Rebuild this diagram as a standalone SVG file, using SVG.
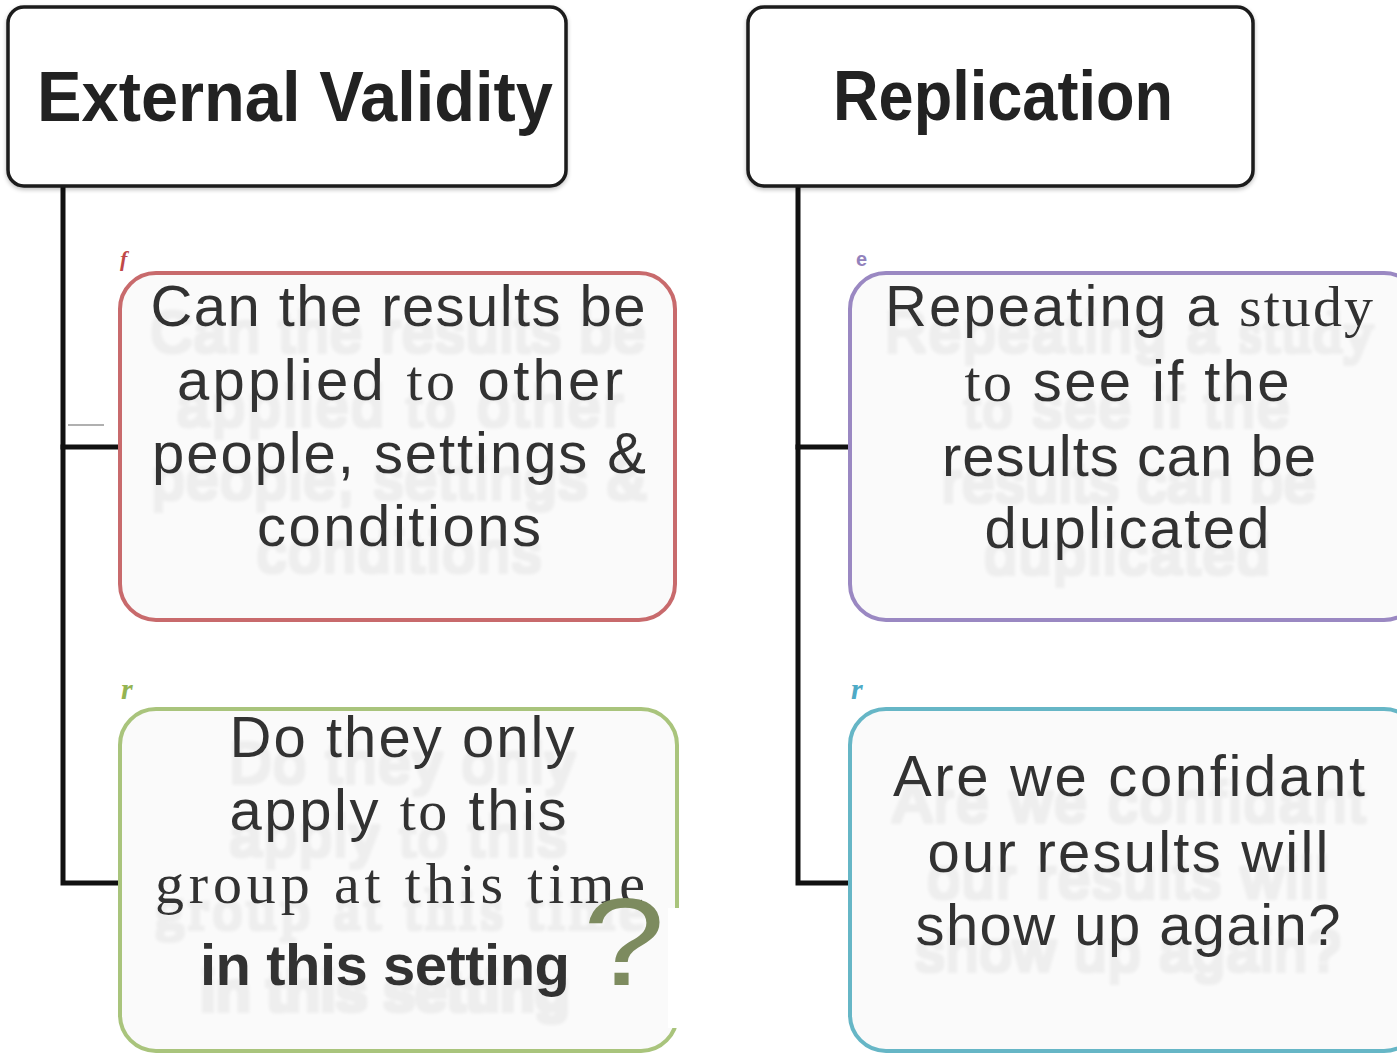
<svg xmlns="http://www.w3.org/2000/svg" width="1397" height="1053" viewBox="0 0 1397 1053">
  <defs>
    <style>
      .title { font-family: "Liberation Sans", Arial, sans-serif; font-weight: bold; font-size: 70px; fill: #222; text-anchor: middle; }
      .body { font-family: "Liberation Sans", Arial, sans-serif; font-size: 58px; fill: #333; text-anchor: middle; }
      .serif { font-family: "Liberation Serif", "Times New Roman", serif; }
      .bold { font-weight: bold; }
      .tbox { fill: #ffffff; stroke: #1a1a1a; stroke-width: 3.5; }
      .box { fill: #fafafa; stroke-width: 4; }
      .conn { stroke: #111; stroke-width: 5; fill: none; stroke-linecap: square; }
      .tag { font-family: "Liberation Serif", "Times New Roman", serif; font-style: italic; font-weight: bold; }
    </style>
    <filter id="ghost" x="-5%" y="-20%" width="110%" height="180%">
      <feOffset in="SourceAlpha" dy="26" result="o"/>
      <feMorphology in="o" operator="dilate" radius="1.5" result="m"/>
      <feGaussianBlur in="m" stdDeviation="1.5" result="b"/>
      <feFlood flood-color="#dcdcdc" flood-opacity="0.4"/>
      <feComposite in2="b" operator="in" result="g"/>
      <feMerge><feMergeNode in="g"/><feMergeNode in="SourceGraphic"/></feMerge>
    </filter>
    <filter id="shadow" x="-5%" y="-10%" width="110%" height="125%">
      <feGaussianBlur in="SourceAlpha" stdDeviation="2"/>
      <feOffset dy="2" result="b"/>
      <feFlood flood-color="#000" flood-opacity="0.25"/>
      <feComposite in2="b" operator="in" result="s"/>
      <feMerge><feMergeNode in="s"/><feMergeNode in="SourceGraphic"/></feMerge>
    </filter>
  </defs>
  <rect width="1397" height="1053" fill="#ffffff"/>

  <g id="connectors">
    <path class="conn" d="M63 186 V883 H120"/>
    <path class="conn" d="M63 447 H120" stroke-width="6"/>
    <path class="conn" d="M798 186 V883 H850"/>
    <path class="conn" d="M798 447 H850" stroke-width="6"/>
    <line x1="68" y1="425" x2="104" y2="425" stroke="#b0b0b0" stroke-width="2"/>
  </g>

  <g id="external-validity">
    <rect class="tbox" x="8" y="7" width="558" height="179" rx="16" filter="url(#shadow)"/>
    <text class="title" x="295" y="121" textLength="516" lengthAdjust="spacingAndGlyphs">External Validity</text>
  </g>

  <g id="replication">
    <rect class="tbox" x="748" y="7" width="505" height="179" rx="16" filter="url(#shadow)"/>
    <text class="title" x="1003" y="120" textLength="340" lengthAdjust="spacingAndGlyphs">Replication</text>
  </g>

  <g id="box-generalise">
    <text class="tag" x="120" y="266" font-size="22" fill="#c04848">f</text>
    <rect class="box" x="120" y="273" width="555" height="347" rx="36" stroke="#c86a6c"/>
    <g filter="url(#ghost)">
      <text class="body" x="398" y="326" textLength="495">Can the results be</text>
      <text class="body" x="400" y="400" textLength="446">applied <tspan class="serif">to</tspan> other</text>
      <text class="body" x="399" y="473" textLength="494">people, settings &amp;</text>
      <text class="body" x="399" y="546" textLength="284">conditions</text>
    </g>
  </g>

  <g id="box-repeating">
    <text x="856" y="266" font-family="Liberation Sans, Arial, sans-serif" font-weight="bold" font-size="20" fill="#9282bc">e</text>
    <rect class="box" x="850" y="273" width="570" height="347" rx="36" stroke="#9a88c2"/>
    <g filter="url(#ghost)">
      <text class="body" x="1129" y="326" textLength="488">Repeating a <tspan class="serif">study</tspan></text>
      <text class="body" x="1127" y="401" textLength="325"><tspan class="serif">to</tspan> see if the</text>
      <text class="body" x="1129" y="476" textLength="374">results can be</text>
      <text class="body" x="1127" y="548" textLength="285">duplicated</text>
    </g>
  </g>

  <g id="box-only-group">
    <text class="tag" x="121" y="699" font-size="30" fill="#94b452">r</text>
    <rect class="box" x="120" y="709" width="557" height="342" rx="36" stroke="#a9c47c"/>
    <rect x="668" y="908" width="20" height="120" fill="#ffffff"/>
    <g filter="url(#ghost)">
      <text class="body" x="402" y="757" textLength="345">Do they only</text>
      <text class="body" x="398" y="830" textLength="337">apply <tspan class="serif">to</tspan> this</text>
      <text class="body serif" x="400" y="903" textLength="490">group  at this time</text>
      <text class="body bold" x="385" y="985" textLength="370">in this  setting</text>
    </g>
    <text x="624" y="985" font-family="Liberation Sans, Arial, sans-serif" font-size="124" fill="#7d8b5f" text-anchor="middle" textLength="82" lengthAdjust="spacingAndGlyphs">?</text>
  </g>

  <g id="box-confident">
    <text class="tag" x="851" y="699" font-size="30" fill="#4eaac6">r</text>
    <rect class="box" x="850" y="709" width="570" height="342" rx="36" stroke="#66b6c6"/>
    <g filter="url(#ghost)">
      <text class="body" x="1129" y="796" textLength="472">Are we confidant</text>
      <text class="body" x="1128" y="872" textLength="401">our  results will</text>
      <text class="body" x="1128" y="945" textLength="425">show up again?</text>
    </g>
  </g>
</svg>
